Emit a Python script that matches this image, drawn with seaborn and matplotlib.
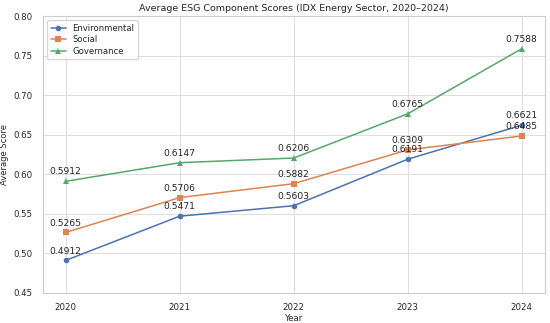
import matplotlib
matplotlib.use("Agg")
import matplotlib.pyplot as plt
import seaborn as sns
import pandas as pd

years = [2020, 2021, 2022, 2023, 2024]
environmental = [0.4912, 0.5471, 0.5603, 0.6191, 0.6621]
social = [0.5265, 0.5706, 0.5882, 0.6309, 0.6485]
governance = [0.5912, 0.6147, 0.6206, 0.6765, 0.7588]
series_names = ["Environmental", "Social", "Governance"]

sns.set_theme(style="whitegrid")
plt.rcParams['font.family'] = ['DejaVu Sans']

df = pd.DataFrame({
    "Year": years * 3,
    "Score": environmental + social + governance,
    "Component": [n for n in series_names for _ in years],
})

fig, ax = plt.subplots(figsize=(5.5, 3.23), dpi=100)
palette = sns.color_palette("deep", 3)
markers = {"Environmental": "o", "Social": "s", "Governance": "^"}
sns.lineplot(data=df, x="Year", y="Score", hue="Component", style="Component",
             markers=markers, dashes=False, palette=palette, ax=ax,
             linewidth=1.1, markersize=4, markeredgewidth=0)

for vals in [environmental, social, governance]:
    for x, y in zip(years, vals):
        ax.annotate(f"{y:.4f}", (x, y), textcoords="offset points", xytext=(0, 3.5),
                    ha="center", va="bottom", fontsize=6.6, color="#222222")

ax.set_ylim(0.45, 0.80)
ax.set_xticks(years)
ax.set_xticklabels([str(y) for y in years])
ax.tick_params(labelsize=6.2, pad=1.5)
ax.set_xlabel("Year", fontsize=6.2, labelpad=1)
ax.set_ylabel("Average Score", fontsize=6.0, labelpad=3)
ax.set_title("Average ESG Component Scores (IDX Energy Sector, 2020\u20132024)", fontsize=6.8, pad=4)
ax.grid(True, color="#dddddd", linewidth=0.7)
for s in ax.spines.values():
    s.set_color("#cccccc")
    s.set_linewidth(0.8)
leg = ax.legend(loc="upper left", fontsize=6.1, frameon=True, title=None,
                borderpad=0.4, labelspacing=0.3, handlelength=1.8)

fig.subplots_adjust(left=0.078, right=0.99, top=0.95, bottom=0.093)
fig.savefig("out.png", dpi=100)
